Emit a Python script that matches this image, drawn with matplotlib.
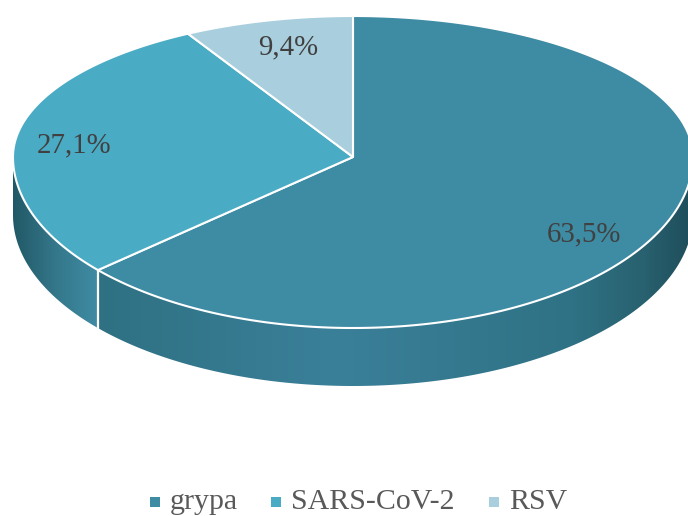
import numpy as np
import matplotlib
matplotlib.use('Agg')
import matplotlib.pyplot as plt
from matplotlib.colors import LinearSegmentedColormap
from matplotlib.patches import Polygon

plt.rcParams['font.family'] = ['Liberation Serif', 'DejaVu Serif']

# Data
categories = ['grypa', 'SARS-CoV-2', 'RSV']
shares = [63.5, 27.1, 9.4]
labels = ['63,5%', '27,1%', '9,4%']
colors = ['#3e8ba4', '#4aabc5', '#a9cedd']

# Pie geometry in pixels
cx, cy = 353, 157
rx, ry_up, ry_down = 340, 141, 171
depth = 58


def project(theta):
    # theta in degrees clockwise from 12 o'clock, rear half is foreshortened
    theta = np.asarray(theta, dtype=float)
    t = np.radians(theta)
    up = np.cos(t) > 0
    folded = np.where(np.sin(t) < 0, 1, -1)
    warped = t + up * folded * np.radians(5.2) * np.abs(np.sin(2 * t))
    x = cx + rx * np.sin(warped)
    y = cy - np.where(up, ry_up, ry_down) * np.cos(warped)
    return x, y


fig = plt.figure(figsize=(6.88, 5.16), dpi=100)
ax = fig.add_axes([0, 0, 1, 1])
ax.set_xlim(0, 688)
ax.set_ylim(516, 0)
ax.axis('off')

# Slice angles
edges = np.cumsum([0] + shares) * 3.6

# Rim of each slice that faces the viewer
rim_stops = [
    [(0, '#2f7183'), (0.4, '#3a8099'), (0.8, '#2f7285'), (0.92, '#28616f'), (1, '#1f4d5a')],
    [(0, '#215866'), (0.5, '#34778a'), (1, '#3f8ba3')],
]
rim_x = [(97, 693), (13, 97)]
for i in range(2):
    start = max(edges[i], 90)
    end = min(edges[i + 1], 270)
    th = np.linspace(start, end, 200)
    x, y = project(th)
    pts = np.r_[np.c_[x, y], np.c_[x[::-1], y[::-1] + depth]]
    poly = Polygon(pts, closed=True, fc='none', ec='none')
    ax.add_patch(poly)
    cmap = LinearSegmentedColormap.from_list('rim%d' % i, rim_stops[i])
    im = ax.imshow(np.linspace(0, 1, 256).reshape(1, -1), cmap=cmap, aspect='auto',
                   extent=[rim_x[i][0], rim_x[i][1], 400, 100], zorder=1)
    im.set_clip_path(poly)

# Restore limits after imshow
ax.set_xlim(0, 688)
ax.set_ylim(516, 0)

# White divider on the rim where slices meet
bx, by = project(edges[1])
ax.plot([bx, bx], [by, by + depth], color='white', lw=1.6, zorder=2)

# Top face
for i in range(3):
    th = np.linspace(edges[i], edges[i + 1], 300)
    x, y = project(th)
    pts = np.r_[[[cx, cy]], np.c_[x, y]]
    ax.add_patch(Polygon(pts, closed=True, fc=colors[i], ec='white', lw=1.5,
                         joinstyle='round', zorder=3))

# Data labels
label_pos = [(583.5, 234), (74, 145), (288.5, 47)]
for txt, (lx, ly) in zip(labels, label_pos):
    ax.text(lx, ly, txt, fontsize=20.8, color='#404040', ha='center', va='center', zorder=4)

# Legend
legend_sq = [155, 276, 494]
legend_txt = [170, 291, 509]
for name, col, sx, tx in zip(categories, colors, legend_sq, legend_txt):
    ax.scatter([sx], [502], marker='s', s=50, color=col, linewidths=0, zorder=4)
    ax.text(tx, 509, name, fontsize=21.5, color='#595959', ha='left', va='baseline', zorder=4)

fig.savefig('out.png', dpi=100)
